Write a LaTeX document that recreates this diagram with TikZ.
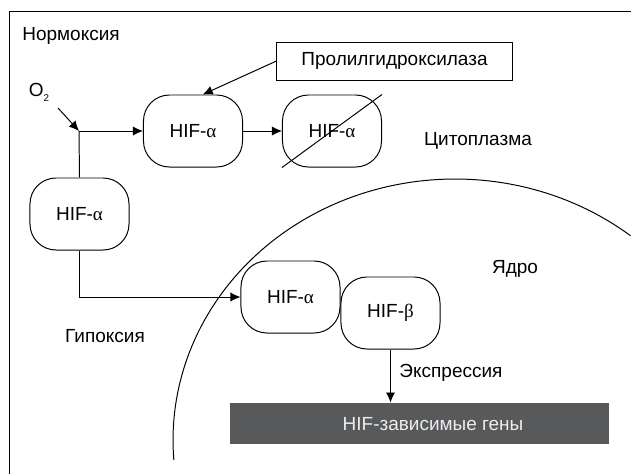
\documentclass[tikz,border=0pt]{standalone}
\usepackage{fontspec}
\setmainfont{Liberation Sans}
\newfontfamily\greekfont{Liberation Serif}
\usetikzlibrary{arrows.meta}
\definecolor{genegray}{HTML}{58595B}
\begin{document}
\begin{tikzpicture}[x=0.025cm, y=-0.025cm, line width=0.7pt,
  font=\fontsize{13.5}{16}\selectfont,
  >={Latex[length=2.5mm,width=2.3mm]},
  hifbox/.style={draw, rounded corners=0.65cm, minimum width=2.475cm, minimum height=1.8cm, inner sep=0pt},
  plain/.style={inner sep=0pt}]
\useasboundingbox (0,0) rectangle (631,474);
\draw (631,11) -- (9,11) -- (9,474);

\node[plain] (norm) at (71,36) {Нормоксия};
\node[plain] (o2) at (39,92) {O\raisebox{-0.5ex}{\scriptsize 2}};
\node[draw, minimum width=5.875cm, minimum height=0.95cm] (phd) at (394.5,61) {Пролилгидроксилаза};
\node[hifbox] (n1) at (193,131) {HIF-{\greekfont α}};
\node[hifbox] (n2) at (332,131) {HIF-{\greekfont α}};
\node[plain] (cyto) at (478,140.5) {Цитоплазма};
\node[hifbox] (n3) at (79.5,214) {HIF-{\greekfont α}};
\node[hifbox] (n4) at (290.5,297) {HIF-{\greekfont α}};
\node[hifbox] (n5) at (390.5,313) {HIF-{\greekfont β}};
\node[plain] (nucl) at (515,268.5) {Ядро};
\node[plain] (hypo) at (105,336.5) {Гипоксия};
\node[plain, anchor=west] (expr) at (399,373) {Экспрессия};
\node[fill=genegray, minimum width=9.475cm, minimum height=1.025cm, inner sep=0pt] (genes) at (419.5,423.5) {};
\node[plain, text=white!93!black] (genestext) at (433,424) {HIF-зависимые гены};

\coordinate (o2tail) at (58,108);
\coordinate (jn) at (79,131);

% nucleus border
\draw plot[domain=184.4:51.5, samples=90] ({455+282*cos(\x)}, {440-261*sin(\x)});

\draw[->] (o2tail) -- (jn);
\draw (n3.north) -- (jn);
\draw[->] (jn) -- (n1.west);
\draw[->] (phd.west) -- (n1.75);
\draw[->] (n1) -- (n2);
\draw (n2.south west) -- (n2.north east);
\draw[->] (n3.south) |- (n4.west);
\draw[->] (n5.south) -- (n5.south |- genes.north);
\end{tikzpicture}
\end{document}
